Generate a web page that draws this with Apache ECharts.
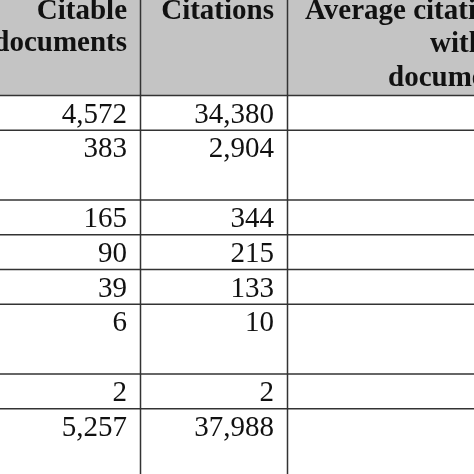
<!DOCTYPE html>
<html><head><meta charset="utf-8">
<script src="https://cdn.jsdelivr.net/npm/echarts@6/dist/echarts.min.js"></script>
</head>
<body style="margin:0;padding:0;background:#fff;">
<div id="chart" style="width:474px;height:474px;"></div>
<script>
// table content
const headerCitable = ['Citable', 'documents'];
const headerCitations = ['Citations'];
const headerAverage = ['Average citations', 'with', 'documents'];
const citable = ['4,572', '383', '165', '90', '39', '6', '2', '5,257'];
const citations = ['34,380', '2,904', '344', '215', '133', '10', '2', '37,988'];
const rowLines = [1, 2, 1, 1, 1, 2, 1, 2];

const FONT = '"Liberation Serif", "Times New Roman", serif';
const LINE = '#333';
const headerH = 95.5, unit = 34.8;
const colA = 140.5, colB = 287.5;

// running row tops in table units
let acc = 0;
const rows = rowLines.map((n, i) => {
  const top = headerH + acc * unit;
  acc += n;
  return [i, top, top + n * unit];
});

const headText = (t, x, y, align) => ({
  type: 'text', z: 5,
  style: { text: t, x, y, align, verticalAlign: 'top', font: 'bold 29px ' + FONT, fill: '#111' }
});

const chart = echarts.init(document.getElementById('chart'));
chart.setOption({
  animation: false,
  grid: { left: 0, right: 0, top: 0, bottom: 0 },
  xAxis: { type: 'value', min: 0, max: 474, show: false },
  yAxis: { type: 'value', min: 0, max: 474, inverse: true, show: false },
  graphic: [
    { type: 'rect', shape: { x: 0, y: 0, width: 474, height: headerH }, style: { fill: '#c4c4c4' }, z: 0 },
    ...headerCitable.map((t, i) => headText(t, 127, -3 + i * 32.5, 'right')),
    ...headerCitations.map((t, i) => headText(t, 274, -3 + i * 32.5, 'right')),
    ...headerAverage.map((t, i) => headText(t, [305, 430, 388][i], -3 + i * 33.5, 'left')),
    { type: 'line', z: 6, shape: { x1: colA, y1: 0, x2: colA, y2: 474 }, style: { stroke: LINE, lineWidth: 1.5 } },
    { type: 'line', z: 6, shape: { x1: colB, y1: 0, x2: colB, y2: 474 }, style: { stroke: LINE, lineWidth: 1.5 } }
  ],
  series: [{
    type: 'custom',
    data: rows,
    renderItem: (params, api) => {
      const i = api.value(0);
      const top = api.coord([0, api.value(1)]);
      const a = api.coord([127, api.value(1) + 5]);
      const b = api.coord([274, api.value(1) + 5]);
      return {
        type: 'group',
        children: [
          { type: 'line', shape: { x1: 0, y1: top[1], x2: 474, y2: top[1] }, style: { stroke: LINE, lineWidth: 1.5 } },
          { type: 'text', style: { text: citable[i], x: a[0], y: a[1], align: 'right', verticalAlign: 'top',
              font: '29px ' + FONT, fill: '#111' } },
          { type: 'text', style: { text: citations[i], x: b[0], y: b[1], align: 'right', verticalAlign: 'top',
              font: '29px ' + FONT, fill: '#111' } }
        ]
      };
    }
  }]
});
</script>
</body></html>
